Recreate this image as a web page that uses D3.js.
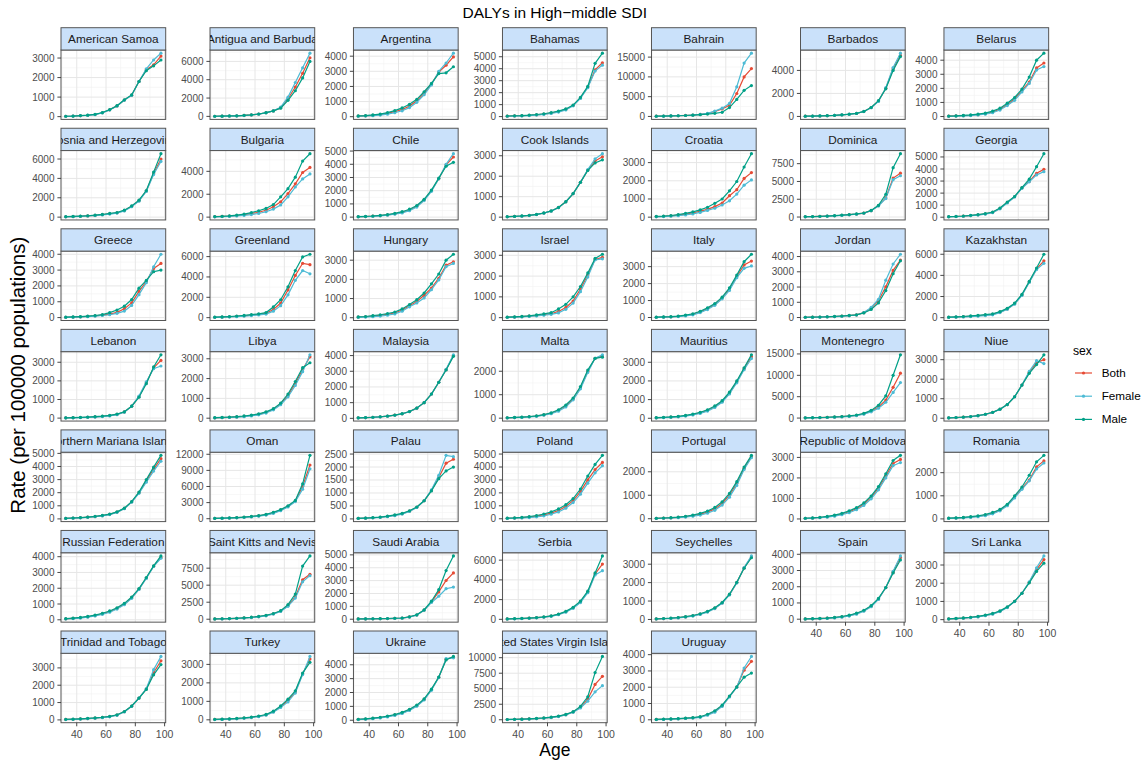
<!DOCTYPE html>
<html><head><meta charset="utf-8">
<script src="https://cdn.jsdelivr.net/npm/d3@7"></script>
<style>
body{margin:0;background:#fff;}
text{font-family:"Liberation Sans",Arial,Helvetica,sans-serif;}
</style>
</head><body>
<svg id="chart" width="1146" height="763"></svg>
<script>
// ---------- DATA ----------
const ages = [32.5,37.5,42.5,47.5,52.5,57.5,62.5,67.5,72.5,77.5,82.5,87.5,92.5,97.5];
const xTickValues = [40,60,80,100];
const sexes = ["Both","Female","Male"];
const sexColors = ["#E64B35","#4DBBD5","#00A087"];
const countries = ["American Samoa","Antigua and Barbuda","Argentina","Bahamas","Bahrain","Barbados","Belarus",
"Bosnia and Herzegovina","Bulgaria","Chile","Cook Islands","Croatia","Dominica","Georgia",
"Greece","Greenland","Hungary","Israel","Italy","Jordan","Kazakhstan",
"Lebanon","Libya","Malaysia","Malta","Mauritius","Montenegro","Niue",
"Northern Mariana Islands","Oman","Palau","Poland","Portugal","Republic of Moldova","Romania",
"Russian Federation","Saint Kitts and Nevis","Saudi Arabia","Serbia","Seychelles","Spain","Sri Lanka",
"Trinidad and Tobago","Turkey","Ukraine","United States Virgin Islands","Uruguay"];
const yTickSteps = [1000,2000,1000,1000,5000,2000,1000,
2000,2000,1000,1000,1000,2500,1000,
1000,2000,1000,1000,1000,1000,2000,
1000,1000,1000,1000,1000,5000,1000,
1000,3000,500,1000,1000,1000,1000,
1000,2500,1000,2000,1000,1000,1000,
1000,1000,1000,2500,1000];
const both = [
[20,30,50,70,110,200,350,550,850,1100,1800,2400,2650,3100],
[15,25,40,60,100,160,250,400,600,950,1900,3200,4700,6400],
[40,60,90,140,220,330,480,700,1050,1550,2150,2950,3400,3950],
[40,55,75,105,150,210,300,420,600,930,1560,2470,3900,4500],
[60,90,130,180,250,350,500,750,1250,1900,2800,5800,10000,12100],
[20,30,45,65,95,140,190,260,430,770,1340,2450,4150,5300],
[25,40,60,90,135,200,320,520,860,1250,1850,2450,3450,3800],
[40,60,90,130,180,250,350,450,680,1120,1700,2700,4500,6000],
[40,60,90,140,210,310,430,600,900,1340,2060,2910,3900,4340],
[30,45,70,110,170,250,360,540,820,1300,2000,2900,3950,4550],
[20,35,55,85,130,200,300,470,750,1150,1700,2300,2750,2950],
[30,45,70,110,170,230,330,430,580,780,1180,1510,2130,2450],
[40,60,90,130,180,250,330,420,550,900,1600,2700,5480,6160],
[40,60,90,140,200,280,400,730,1220,1700,2430,2970,3650,3970],
[20,30,50,75,110,160,220,330,560,930,1650,2280,3100,3420],
[40,60,90,130,180,250,320,420,800,1440,2720,4150,5340,5210],
[30,50,80,120,170,250,400,620,850,1170,1540,2060,2740,2920],
[20,30,45,70,100,140,190,300,490,800,1380,2050,2800,2900],
[15,25,40,70,120,190,330,520,770,1160,1680,2420,3100,3330],
[15,20,30,45,65,90,125,170,320,600,1100,2020,3090,3770],
[40,60,90,130,180,240,310,520,830,1320,2150,3380,4620,5380],
[15,22,32,47,68,95,135,200,330,640,1150,1900,2700,3100],
[20,30,45,65,95,135,195,290,450,720,1150,1750,2450,3100],
[30,45,65,95,140,200,290,430,650,1000,1550,2300,3100,4000],
[15,25,40,60,90,140,210,330,520,820,1300,2000,2550,2650],
[25,40,60,90,135,200,290,420,620,900,1350,1950,2650,3300],
[50,75,110,160,230,320,450,650,1000,1600,2600,4200,7200,10500],
[20,35,55,85,130,200,300,460,700,1100,1700,2350,2850,3000],
[40,60,90,130,180,250,350,520,800,1300,2000,2900,3800,4600],
[60,90,130,190,270,380,530,750,1100,1600,2300,3300,6000,10000],
[20,30,45,65,95,140,200,300,450,700,1100,1600,2150,2300],
[35,55,85,130,200,300,440,640,950,1400,2100,3000,3800,4350],
[15,25,38,58,88,130,190,280,420,650,1000,1500,2150,2650],
[30,45,70,105,160,240,350,500,720,1050,1500,2100,2700,2900],
[25,38,55,80,115,165,250,380,600,950,1330,1680,2250,2510],
[60,90,130,190,270,380,520,720,1000,1400,1950,2650,3400,3950],
[40,60,90,130,190,270,380,540,800,1200,2000,3300,5800,6600],
[20,25,32,40,52,68,90,180,330,710,1350,2120,3010,3600],
[40,60,85,120,165,230,330,500,770,1170,1770,2770,4600,5600],
[30,45,65,95,140,200,290,420,610,900,1350,2000,2800,3400],
[15,25,40,60,95,145,220,340,520,800,1250,1950,2900,3800],
[40,60,85,120,165,230,320,460,680,1000,1450,2050,2750,3300],
[25,38,55,78,105,140,190,280,470,790,1260,1780,2720,3410],
[20,30,45,65,95,135,190,270,440,710,1050,1510,2490,3290],
[60,90,130,190,270,380,530,750,1050,1500,2200,3100,4400,4550],
[40,60,90,130,190,270,380,550,820,1250,2000,3300,5700,7000],
[20,30,45,65,90,120,170,310,510,860,1430,2010,3050,3590]
];
const female = [
[20,30,45,65,100,190,340,540,840,1090,1800,2450,2900,3250],
[15,25,35,55,90,150,240,390,600,1000,2100,3700,5300,6900],
[30,45,70,110,170,260,390,600,950,1450,2100,3000,3550,4200],
[30,42,60,85,125,180,260,380,560,900,1520,2420,3800,4300],
[50,80,120,170,240,340,500,780,1350,2100,3300,7500,13500,16000],
[18,28,42,62,92,135,185,255,425,760,1300,2500,4250,5500],
[20,30,45,70,110,165,270,460,780,1150,1750,2350,3300,3550],
[35,50,80,115,160,225,320,420,640,1080,1650,2650,4400,5750],
[30,45,65,100,150,220,320,470,700,1060,1770,2630,3340,3770],
[25,40,60,95,150,220,320,490,760,1250,1950,2900,4000,4800],
[18,32,50,80,125,195,295,465,745,1150,1700,2320,2850,3100],
[20,30,50,80,125,180,260,370,490,670,900,1270,1760,2050],
[35,55,80,120,165,230,310,400,530,880,1550,2600,5250,5800],
[35,55,80,125,180,255,370,700,1180,1680,2400,2940,3510,3780],
[15,25,40,60,90,130,180,270,410,770,1450,2200,3210,4000],
[30,45,70,100,140,200,270,350,640,1180,2240,3670,4630,4310],
[20,35,55,85,130,200,340,570,770,1030,1460,1970,2660,2830],
[15,25,35,55,80,115,160,230,400,700,1250,1950,2780,2830],
[10,18,30,55,95,160,290,470,720,1100,1600,2350,2900,3040],
[12,17,25,38,55,80,115,165,330,660,1200,2450,3510,4150],
[30,45,70,100,145,200,270,480,790,1280,2100,3330,4550,5140],
[12,18,27,40,58,82,120,185,320,640,1180,1950,2650,2800],
[15,22,35,52,78,115,170,260,420,680,1080,1650,2350,3200],
[28,42,62,90,135,195,285,425,645,1000,1550,2300,3120,4050],
[12,20,33,50,78,125,190,300,480,780,1250,1950,2550,2700],
[20,32,50,75,115,175,260,385,580,860,1300,1900,2600,3200],
[40,60,90,130,190,270,390,580,900,1450,2300,3700,6000,8300],
[18,32,50,80,125,195,295,455,700,1100,1700,2400,2950,2800],
[35,52,80,118,165,230,330,500,780,1280,1950,2800,3650,4400],
[50,75,110,160,230,330,470,680,1000,1500,2200,3200,5500,9300],
[18,27,40,58,85,125,185,285,440,700,1120,1680,2450,2400],
[25,40,62,95,150,230,350,530,820,1250,1900,2750,3550,4100],
[12,20,30,46,70,105,155,235,360,580,920,1420,2100,2600],
[25,38,58,88,135,205,305,450,660,980,1420,2000,2600,2750],
[20,30,45,65,95,140,220,350,570,910,1280,1650,2160,2420],
[50,75,110,165,240,345,480,680,960,1360,1920,2620,3380,3900],
[35,52,78,115,170,245,350,500,760,1150,1900,3100,5500,6400],
[18,22,28,36,48,64,85,170,320,700,1300,1790,2370,2500],
[35,52,75,108,150,210,305,470,730,1120,1700,2700,4500,4930],
[25,38,57,85,127,185,272,400,590,880,1330,1980,2820,3450],
[12,20,33,50,80,125,195,310,490,770,1220,1950,2950,3900],
[35,52,75,108,150,212,300,440,660,990,1450,2080,2850,3500],
[20,32,48,68,95,128,175,265,455,780,1260,1800,2900,3660],
[15,24,37,55,82,120,172,250,410,670,970,1450,2450,3430],
[50,75,110,165,240,345,490,710,1010,1460,2160,3080,4450,4500],
[35,52,78,115,170,245,350,510,780,1200,1900,3000,4500,5500],
[15,24,37,55,78,105,150,280,470,820,1400,2000,3180,3890]
];
const male = [
[20,30,55,75,120,210,360,560,860,1110,1800,2350,2600,2900],
[15,25,45,65,110,170,260,410,600,900,1750,2800,4200,6000],
[50,75,115,175,270,400,580,820,1150,1650,2200,2850,2900,3300],
[50,70,90,125,175,240,340,460,640,960,1600,2520,4450,5300],
[60,90,130,175,240,330,450,600,780,1050,2250,4300,6600,7800],
[22,32,48,70,100,145,195,265,435,780,1380,2400,4000,5200],
[35,50,80,115,170,240,380,590,950,1350,1950,2800,4000,4500],
[45,70,100,145,200,275,380,480,720,1160,1750,2750,4650,6550],
[50,75,115,180,270,400,560,760,1100,1770,2490,3490,4900,5540],
[35,55,85,130,195,290,410,600,880,1350,2050,2950,3850,4150],
[22,38,60,90,135,205,305,475,755,1150,1700,2280,2650,2800],
[40,60,90,140,210,290,400,545,760,1000,1450,1960,2760,3490],
[45,65,100,140,195,270,350,440,570,930,1650,3200,6940,8900],
[45,65,100,155,220,305,430,760,1260,1720,2460,3160,4190,5270],
[25,40,60,90,130,190,310,480,720,1140,1860,2350,2900,3000],
[50,75,110,160,220,300,380,500,1050,1760,3030,4630,5970,6230],
[40,65,105,155,215,300,460,690,940,1290,1770,2280,3000,3310],
[25,40,60,90,130,180,240,420,640,1000,1500,2150,2850,3050],
[20,32,50,85,145,220,370,570,820,1200,1750,2500,3290,3730],
[18,24,35,52,75,100,135,175,300,530,960,1770,2870,3720],
[50,75,110,160,220,290,360,570,880,1370,2200,3430,4700,6000],
[18,26,37,54,78,108,150,215,340,640,1120,1850,2750,3400],
[25,38,55,78,112,155,220,320,480,760,1220,1850,2550,2800],
[32,48,68,100,145,205,295,435,655,1000,1550,2300,3080,3950],
[18,30,47,70,102,155,230,360,560,860,1350,2050,2550,2600],
[30,48,70,105,155,225,320,455,660,940,1400,2000,2700,3400],
[60,90,130,190,270,370,510,720,1100,1800,3000,5200,10000,14800],
[22,38,60,90,135,205,305,465,700,1100,1700,2300,2750,3250],
[45,68,100,142,195,270,370,540,820,1320,2050,3000,3950,4850],
[70,105,150,220,310,430,590,820,1200,1700,2400,3400,6500,11800],
[22,33,50,72,105,155,215,315,460,700,1080,1550,1850,2000],
[45,70,108,165,250,370,530,760,1090,1560,2300,3300,4200,4900],
[18,30,46,70,106,155,225,325,480,720,1080,1580,2200,2700],
[35,52,82,122,185,275,395,550,780,1120,1580,2200,2850,3100],
[30,45,65,95,135,190,280,410,630,1000,1380,1890,2470,2750],
[70,105,150,215,300,415,560,760,1040,1440,1980,2680,3420,4050],
[45,68,102,145,210,295,410,580,840,1250,2150,3700,7800,9300],
[22,28,36,45,58,74,95,190,345,720,1400,2300,3780,4920],
[45,68,95,132,180,250,355,530,810,1220,1840,2850,4700,6430],
[35,52,73,105,153,215,308,440,630,920,1370,2020,2780,3350],
[18,30,47,70,110,165,245,370,550,830,1280,1950,2850,3650],
[45,68,95,132,180,248,340,480,700,1010,1450,2020,2650,3100],
[30,44,62,88,115,152,205,295,485,800,1260,1760,2600,3190],
[25,36,53,75,108,150,208,290,470,750,1120,1570,2530,3110],
[70,105,150,215,300,415,570,790,1090,1540,2240,3120,4350,4600],
[45,68,102,145,210,295,410,590,860,1300,2150,3700,7600,10200],
[25,36,53,75,102,135,190,340,550,900,1460,2020,2620,2870]
];
const seriesBySex = [both, female, male];

// ---------- LAYOUT ----------
const W = 1146, H = 763;
const nCol = 7;
const panelW = 104.7, panelH = 69.4, stripH = 22.3, rowPitch = 100.55;
const top0 = 27.7, left0 = 61, colGap = 10;
const tickLen = 3.6, tickPad = 2.9;
const tickFont = 10, stripFont = 11.8;

const svg = d3.select("#chart");
svg.append("rect").attr("width", W).attr("height", H).attr("fill", "#fff");

const x = d3.scaleLinear().domain([ages[0] - 0.05*(ages[ages.length-1]-ages[0]), ages[ages.length-1] + 0.05*(ages[ages.length-1]-ages[0])]).range([0, panelW]);
const xMinor = [30,50,70,90];

const yScales = countries.map((c, i) => {
  const all = both[i].concat(female[i], male[i]);
  const mn = d3.min(all), mx = d3.max(all);
  const pad = (mx - mn) * 0.05;
  return d3.scaleLinear().domain([mn - pad, mx + pad]).range([panelH, 0]);
});
const yTicks = countries.map((c, i) => {
  const d = yScales[i].domain();
  return d3.range(0, d[1] + 1e-9, yTickSteps[i]);
});

const measure = svg.append("text").attr("font-size", tickFont).attr("visibility", "hidden");
function tw(s){ measure.text(s); return measure.node().getComputedTextLength(); }
const fmt = d => String(d);
const axisW = d3.range(nCol).map(c => {
  let m = 0;
  countries.forEach((n, i) => { if (i % nCol === c) yTicks[i].forEach(t => { m = Math.max(m, tw(fmt(t))); }); });
  return m;
});
measure.remove();
const colLeft = [left0];
for (let c = 1; c < nCol; c++) colLeft[c] = colLeft[c-1] + panelW + colGap + tickLen + tickPad + axisW[c];

const defs = svg.append("defs");

countries.forEach((name, i) => {
  const r = Math.floor(i / nCol), c = i % nCol;
  const g = svg.append("g").attr("transform", `translate(${colLeft[c]},${top0 + r*rowPitch})`);
  const y = yScales[i];
  const pg = g.append("g").attr("transform", `translate(0,${stripH})`);
  pg.append("rect").attr("width", panelW).attr("height", panelH).attr("fill", "#fff");
  const ymin = y.domain()[0], ymax = y.domain()[1], st = yTickSteps[i];
  const yMinor = yTicks[i].map(t => t + st/2).filter(v => v >= ymin && v <= ymax);
  pg.selectAll(".xminor").data(xMinor.filter(v => v >= x.domain()[0])).enter().append("line")
    .attr("x1", d => x(d)).attr("x2", d => x(d)).attr("y1", 0).attr("y2", panelH)
    .attr("stroke", "#f2f2f2").attr("stroke-width", 0.6);
  pg.selectAll(".yminor").data(yMinor).enter().append("line")
    .attr("x1", 0).attr("x2", panelW).attr("y1", d => y(d)).attr("y2", d => y(d))
    .attr("stroke", "#f2f2f2").attr("stroke-width", 0.6);
  pg.selectAll(".xmajor").data(xTickValues).enter().append("line")
    .attr("x1", d => x(d)).attr("x2", d => x(d)).attr("y1", 0).attr("y2", panelH)
    .attr("stroke", "#e6e6e6").attr("stroke-width", 1);
  pg.selectAll(".ymajor").data(yTicks[i]).enter().append("line")
    .attr("x1", 0).attr("x2", panelW).attr("y1", d => y(d)).attr("y2", d => y(d))
    .attr("stroke", "#e6e6e6").attr("stroke-width", 1);
  const line = d3.line().x((d, k) => x(ages[k])).y(d => y(d));
  seriesBySex.forEach((ser, s) => {
    pg.append("path").attr("d", line(ser[i])).attr("fill", "none")
      .attr("stroke", sexColors[s]).attr("stroke-width", 1.2);
    pg.selectAll(".pt" + s).data(ser[i]).enter().append("circle")
      .attr("cx", (d, k) => x(ages[k])).attr("cy", d => y(d)).attr("r", 1.6)
      .attr("fill", sexColors[s]);
  });
  pg.append("rect").attr("width", panelW).attr("height", panelH).attr("fill", "none")
    .attr("stroke", "#555").attr("stroke-width", 1);
  const ya = pg.append("g");
  yTicks[i].forEach(t => {
    ya.append("line").attr("x1", -tickLen).attr("x2", 0).attr("y1", y(t)).attr("y2", y(t))
      .attr("stroke", "#333").attr("stroke-width", 0.9);
    ya.append("text").attr("x", -tickLen - tickPad).attr("y", y(t)).attr("dy", "0.35em")
      .attr("text-anchor", "end").attr("font-size", tickFont).attr("fill", "#4d4d4d").text(fmt(t));
  });
  if (i + nCol >= countries.length) {
    xTickValues.forEach(t => {
      pg.append("line").attr("x1", x(t)).attr("x2", x(t)).attr("y1", panelH).attr("y2", panelH + tickLen)
        .attr("stroke", "#333").attr("stroke-width", 0.9);
      pg.append("text").attr("x", x(t)).attr("y", panelH + tickLen + tickPad).attr("dy", "0.8em")
        .attr("text-anchor", "middle").attr("font-size", tickFont + 0.5).attr("fill", "#4d4d4d").text(t);
    });
  }
  const cid = "clip" + i;
  defs.append("clipPath").attr("id", cid).append("rect").attr("width", panelW).attr("height", stripH);
  g.append("rect").attr("width", panelW).attr("height", stripH).attr("fill", "#cae1fa")
    .attr("stroke", "#555").attr("stroke-width", 1);
  g.append("g").attr("clip-path", `url(#${cid})`).append("text")
    .attr("x", panelW/2).attr("y", stripH/2).attr("dy", "0.35em").attr("text-anchor", "middle")
    .attr("font-size", stripFont).attr("fill", "#1a1a1a").text(name);
});

const plotLeft = colLeft[0], plotRight = colLeft[nCol-1] + panelW;
svg.append("text").attr("x", (plotLeft + plotRight)/2).attr("y", 18).attr("text-anchor", "middle")
  .attr("font-size", 15.5).attr("fill", "#000").text("DALYs in High\u2212middle SDI");
svg.append("text").attr("x", (plotLeft + plotRight)/2).attr("y", 756).attr("text-anchor", "middle")
  .attr("font-size", 17.5).attr("fill", "#000").text("Age");
const midY = (top0 + top0 + 6*rowPitch + stripH + panelH)/2;
svg.append("text").attr("transform", `translate(25,${midY}) rotate(-90)`).attr("text-anchor", "middle")
  .attr("font-size", 20.5).attr("fill", "#000").text("Rate (per 100000 populations)");

const lg = svg.append("g").attr("transform", "translate(1073,0)");
lg.append("text").attr("x", 0).attr("y", 351).attr("dy", "0.35em").attr("font-size", 12.2).attr("fill", "#000").text("sex");
sexes.forEach((s, k) => {
  const cy = 373 + k*23.2;
  lg.append("line").attr("x1", 2).attr("x2", 19).attr("y1", cy).attr("y2", cy)
    .attr("stroke", sexColors[k]).attr("stroke-width", 1.2);
  lg.append("circle").attr("cx", 10.5).attr("cy", cy).attr("r", 1.6).attr("fill", sexColors[k]);
  lg.append("text").attr("x", 28.7).attr("y", cy).attr("dy", "0.35em").attr("font-size", 11.7).attr("fill", "#000").text(s);
});
</script>
</body></html>
